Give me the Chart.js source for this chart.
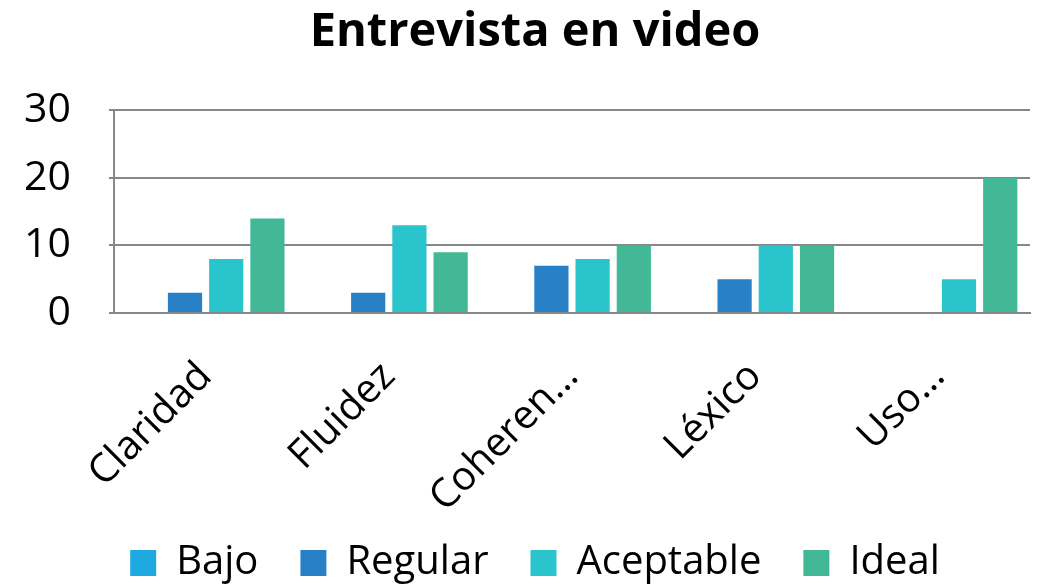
<!DOCTYPE html>
<html>
<head>
<meta charset="utf-8">
<script src="https://cdn.jsdelivr.net/npm/chart.js@4/dist/chart.umd.min.js"></script>
<style>
  html, body { margin: 0; padding: 0; background: #fff; }
  #wrap { width: 1043px; height: 585px; }
</style>
</head>
<body>
<div id="wrap"><canvas id="chart"></canvas></div>
<script>
// data
const categories = ["Claridad", "Fluidez", "Coheren…", "Léxico", "Uso…"];
const bajo = [0, 0, 0, 0, 0];
const regular = [3, 3, 7, 5, 0];
const aceptable = [8, 13, 8, 10, 5];
const ideal = [14, 9, 10, 10, 20];
const yTicks = [0, 10, 20, 30];

const FONT = "'Open Sans', sans-serif";
const gridGray = "#878787";

// tick labels get clipped to their axis box, give them some extra room
const labelRoomPlugin = {
  id: "labelRoom",
  beforeDraw: (chart) => {
    chart.scales.x.bottom += 30;
    chart.scales.y.left -= 40;
  },
};

const ctx = document.getElementById("chart").getContext("2d");

new Chart(ctx, {
  type: "bar",
  data: {
    labels: categories,
    datasets: [
      { label: "Bajo", data: bajo, backgroundColor: "#1FA9E1" },
      { label: "Regular", data: regular, backgroundColor: "#2881C7" },
      { label: "Aceptable", data: aceptable, backgroundColor: "#29C4CC" },
      { label: "Ideal", data: ideal, backgroundColor: "#43B897" },
    ],
  },
  options: {
    responsive: true,
    maintainAspectRatio: false,
    animation: false,
    categoryPercentage: 0.9,
    barPercentage: 0.83,
    layout: { padding: { left: 40, right: 13, top: 0, bottom: 0 } },
    plugins: {
      title: {
        display: true,
        text: "Entrevista en video",
        color: "#000",
        font: { family: FONT, size: 47, weight: "bold" },
        padding: { top: 4, bottom: 50 },
      },
      legend: {
        position: "bottom",
        maxHeight: 84,
        labels: {
          color: "#000",
          font: { family: FONT, size: 40 },
          boxWidth: 26,
          boxHeight: 26,
          padding: 42,
        },
      },
      tooltip: { enabled: false },
    },
    scales: {
      x: {
        grid: { display: false },
        border: { display: true, color: gridGray, width: 2 },
        ticks: {
          color: "#000",
          font: { family: FONT, size: 40 },
          minRotation: 45,
          maxRotation: 45,
          padding: 32,
          autoSkip: false,
        },
        afterFit: (axis) => { axis.height = 188; },
      },
      y: {
        min: 0,
        max: 30,
        afterBuildTicks: (axis) => { axis.ticks = yTicks.map((v) => ({ value: v })); },
        grid: { color: gridGray, lineWidth: 2, tickLength: 5 },
        border: { display: true, color: gridGray, width: 2 },
        ticks: {
          color: "#000",
          font: { family: FONT, size: 41 },
          padding: 38,
        },
        afterFit: (axis) => { axis.width = 74; },
      },
    },
  },
  plugins: [labelRoomPlugin],
});
</script>
</body>
</html>
